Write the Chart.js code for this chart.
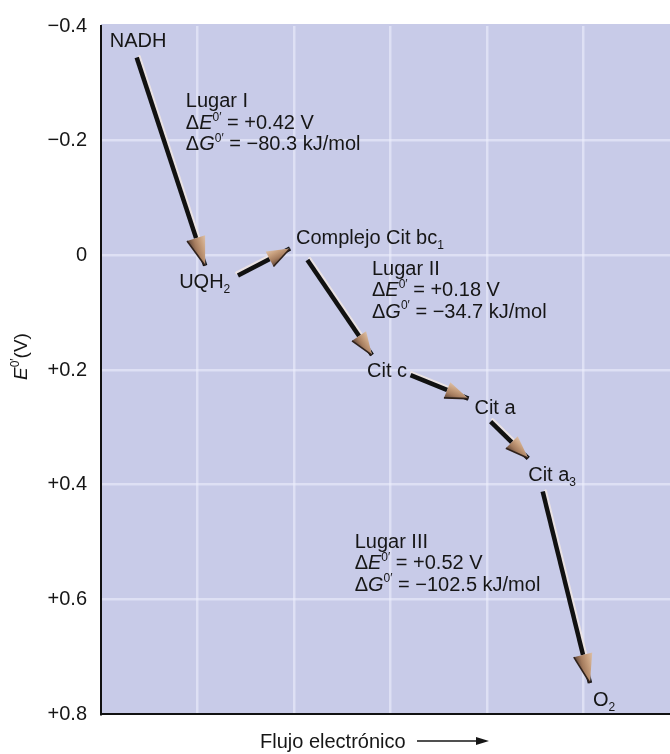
<!DOCTYPE html>
<html lang="es">
<head>
    <meta charset="UTF-8">
    <title>Cadena de transporte electrónico</title>
    <script src="https://cdn.jsdelivr.net/npm/chart.js"></script>
    <style>
        html, body {
            margin: 0;
            padding: 0;
            background: #ffffff;
        }
        #chart {
            display: block;
        }
    </style>
</head>
<body>
    <canvas id="chart" width="670" height="754"></canvas>

    <script>
        // Cada paso: flujo electrónico (unidades arbitrarias) y E0' (V) al inicio y al final de la flecha
        const pasos = ["NADH → UQH2", "UQH2 → Complejo Cit bc1", "Complejo Cit bc1 → Cit c", "Cit c → Cit a", "Cit a → Cit a3", "Cit a3 → O2"];
        const flujoInicio = [0.37, 1.42, 2.14, 3.21, 4.04, 4.58];
        const eInicio = [-0.345, 0.035, 0.008, 0.209, 0.290, 0.412];
        const flujoFin = [1.08, 1.96, 2.81, 3.81, 4.43, 5.07];
        const eFin = [0.018, -0.012, 0.174, 0.250, 0.354, 0.746];

        // Transportadores: [texto, subíndice]
        const especies = [["NADH", ""], ["UQH", "2"], ["Complejo Cit bc", "1"], ["Cit c", ""], ["Cit a", ""], ["Cit a", "3"], ["O", "2"]];

        // Sitios de acoplamiento
        const lugares = ["Lugar I", "Lugar II", "Lugar III"];
        const deltaE = [0.42, 0.18, 0.52];
        const deltaG = [-80.3, -34.7, -102.5];
        const lugarFlujo = [0.88, 2.81, 2.63];
        const lugarE = [-0.258, 0.034, 0.510];

        const yTicks = [-0.4, -0.2, 0, 0.2, 0.4, 0.6, 0.8];

        const FONT = '"Liberation Sans", Arial, Helvetica, sans-serif';
        const INK = "#161616";

        function fmtTick(v) {
            if (Math.abs(v) < 1e-9) return "0";
            return (v < 0 ? "\u2212" : "+") + Math.abs(v).toFixed(1);
        }

        // dibuja texto con cursivas, superíndices y subíndices
        function rich(ctx, x, y, parts, size) {
            parts.forEach(p => {
                let fs = size, dy = 0;
                if (p.sup) { fs = Math.round(size * 0.62); dy = -size * 0.42; }
                if (p.sub) { fs = Math.round(size * 0.62); dy = size * 0.25; }
                ctx.font = (p.it ? "italic " : "") + fs + "px " + FONT;
                ctx.fillText(p.t, x, y + dy);
                x += ctx.measureText(p.t).width;
            });
            return x;
        }

        function geom(chart, i) {
            const pts = chart.getDatasetMeta(i).data;
            const x0 = pts[0].x, y0 = pts[0].y, x1 = pts[1].x, y1 = pts[1].y;
            const len = Math.hypot(x1 - x0, y1 - y0);
            const ux = (x1 - x0) / len, uy = (y1 - y0) / len;
            const L = len > 150 ? 29 : 23;
            const w = len > 150 ? 9.5 : 8.5;
            const bx = x1 - ux * L, by = y1 - uy * L;
            return { x0, y0, x1, y1, ux, uy, nx: uy, ny: -ux, L, w, bx, by };
        }

        function headPath(ctx, g) {
            ctx.moveTo(g.x1, g.y1);
            ctx.lineTo(g.bx + g.nx * g.w, g.by + g.ny * g.w);
            ctx.lineTo(g.bx - g.nx * g.w, g.by - g.ny * g.w);
            ctx.closePath();
        }

        const fondo = {
            id: "fondo",
            beforeDraw(chart) {
                const { ctx, chartArea: a } = chart;
                ctx.save();
                ctx.fillStyle = "#c8cbe8";
                ctx.fillRect(a.left, a.top - 2, a.right - a.left, a.bottom - a.top + 2);
                ctx.restore();
            }
        };

        const flechas = {
            id: "flechas",
            beforeDatasetsDraw(chart) {
                const ctx = chart.ctx;
                ctx.save();
                ctx.lineCap = "round";
                pasos.forEach((p, i) => {
                    const g = geom(chart, i);
                    ctx.strokeStyle = "rgba(240, 230, 226, 0.85)";
                    ctx.lineWidth = 3;
                    ctx.beginPath();
                    ctx.moveTo(g.x0 + g.nx * 2.8, g.y0 + g.ny * 2.8);
                    ctx.lineTo(g.bx + g.nx * 2.8, g.by + g.ny * 2.8);
                    ctx.stroke();
                });
                ctx.restore();
            },
            beforeDatasetDraw(chart, args) {
                const ctx = chart.ctx;
                const g = geom(chart, args.index);
                ctx.save();
                ctx.beginPath();
                ctx.rect(0, 0, chart.width, chart.height);
                headPath(ctx, g);
                ctx.clip("evenodd");
            },
            afterDatasetDraw(chart) {
                chart.ctx.restore();
            },
            afterDatasetsDraw(chart) {
                const ctx = chart.ctx;
                ctx.save();
                pasos.forEach((p, i) => {
                    const g = geom(chart, i);
                    const grad = ctx.createLinearGradient(
                        g.bx - g.nx * g.w, g.by - g.ny * g.w,
                        g.bx + g.nx * g.w, g.by + g.ny * g.w);
                    grad.addColorStop(0, "#5a4236");
                    grad.addColorStop(0.35, "#a57c5e");
                    grad.addColorStop(0.7, "#c9a17f");
                    grad.addColorStop(1, "#dcc0a8");
                    ctx.fillStyle = grad;
                    ctx.beginPath();
                    headPath(ctx, g);
                    ctx.fill();
                    // borde oscuro
                    ctx.strokeStyle = "#2e211b";
                    ctx.lineWidth = 1.6;
                    ctx.beginPath();
                    ctx.moveTo(g.x1, g.y1);
                    ctx.lineTo(g.bx - g.nx * g.w, g.by - g.ny * g.w);
                    ctx.stroke();
                });

                // nombres de los transportadores
                const off = [[-27, -11], [-26, 22], [6, -4], [-5, 22], [6, 15], [0, 23], [3, 23]];
                ctx.fillStyle = INK;
                ctx.textBaseline = "alphabetic";
                ctx.textAlign = "left";
                especies.forEach((e, k) => {
                    const g = k === 0 ? geom(chart, 0) : geom(chart, k - 1);
                    const ax = k === 0 ? g.x0 : g.x1;
                    const ay = k === 0 ? g.y0 : g.y1;
                    const parts = [{ t: e[0] }];
                    if (e[1]) parts.push({ t: e[1], sub: true });
                    rich(ctx, ax + off[k][0], ay + off[k][1], parts, 20);
                });

                // bloques de Lugar I, II, III
                const xs = chart.scales.x, ys = chart.scales.y;
                lugares.forEach((l, k) => {
                    const x = xs.getPixelForValue(lugarFlujo[k]);
                    const y = ys.getPixelForValue(lugarE[k]);
                    rich(ctx, x, y, [{ t: l }], 20);
                    rich(ctx, x, y + 21.5, [
                        { t: "\u0394" }, { t: "E", it: true }, { t: "0\u2032", sup: true },
                        { t: " = +" + deltaE[k].toFixed(2) + " V" }
                    ], 20);
                    rich(ctx, x, y + 43, [
                        { t: "\u0394" }, { t: "G", it: true }, { t: "0\u2032", sup: true },
                        { t: " = \u2212" + Math.abs(deltaG[k]).toFixed(1) + " kJ/mol" }
                    ], 20);
                });

                // título del eje Y
                ctx.save();
                ctx.translate(27, 380);
                ctx.rotate(-Math.PI / 2);
                rich(ctx, 0, 0, [{ t: "E", it: true }, { t: "0\u2032", sup: true }, { t: "(V)" }], 19);
                ctx.restore();

                // título del eje X con flecha
                ctx.font = "20px " + FONT;
                ctx.fillText("Flujo electrónico", 260, 748);
                ctx.strokeStyle = INK;
                ctx.lineWidth = 1.5;
                ctx.beginPath();
                ctx.moveTo(417, 741);
                ctx.lineTo(478, 741);
                ctx.stroke();
                ctx.beginPath();
                ctx.moveTo(489, 741);
                ctx.lineTo(476, 737);
                ctx.lineTo(476, 745);
                ctx.closePath();
                ctx.fill();
                ctx.restore();
            }
        };

        const gridColor = ctx => {
            const s = ctx.scale;
            const v = ctx.tick ? ctx.tick.value : null;
            if (v === null || Math.abs(v - s.min) < 1e-6 || Math.abs(v - s.max) < 1e-6) return "rgba(0,0,0,0)";
            return "rgba(236, 239, 252, 0.6)";
        };

        const chart = new Chart(document.getElementById("chart"), {
            type: "scatter",
            data: {
                datasets: pasos.map((p, i) => ({
                    label: p,
                    data: [{ x: flujoInicio[i], y: eInicio[i] }, { x: flujoFin[i], y: eFin[i] }],
                    showLine: true,
                    borderColor: "#111111",
                    borderWidth: 4.5,
                    borderCapStyle: "butt",
                    pointRadius: 0,
                    pointHoverRadius: 0
                }))
            },
            options: {
                responsive: false,
                animation: false,
                events: [],
                layout: { padding: { top: 22, right: 0, left: 0, bottom: 0 } },
                plugins: {
                    legend: { display: false },
                    tooltip: { enabled: false }
                },
                scales: {
                    x: {
                        type: "linear",
                        min: 0,
                        max: 5.9,
                        ticks: { display: false, stepSize: 1 },
                        grid: { color: gridColor, lineWidth: 2.5, drawTicks: false },
                        border: { color: "#111111", width: 2 },
                        afterFit: s => { s.height = 40; }
                    },
                    y: {
                        type: "linear",
                        reverse: true,
                        min: yTicks[0],
                        max: yTicks[yTicks.length - 1],
                        afterBuildTicks: s => { s.ticks = yTicks.map(v => ({ value: v })); },
                        ticks: {
                            callback: v => fmtTick(v),
                            color: INK,
                            padding: 14,
                            font: { family: FONT, size: 20 }
                        },
                        grid: { color: gridColor, lineWidth: 2.5, drawTicks: false },
                        border: { color: "#111111", width: 2 },
                        afterFit: s => { s.width = 101; }
                    }
                }
            },
            plugins: [fondo, flechas]
        });
    </script>
</body>
</html>
